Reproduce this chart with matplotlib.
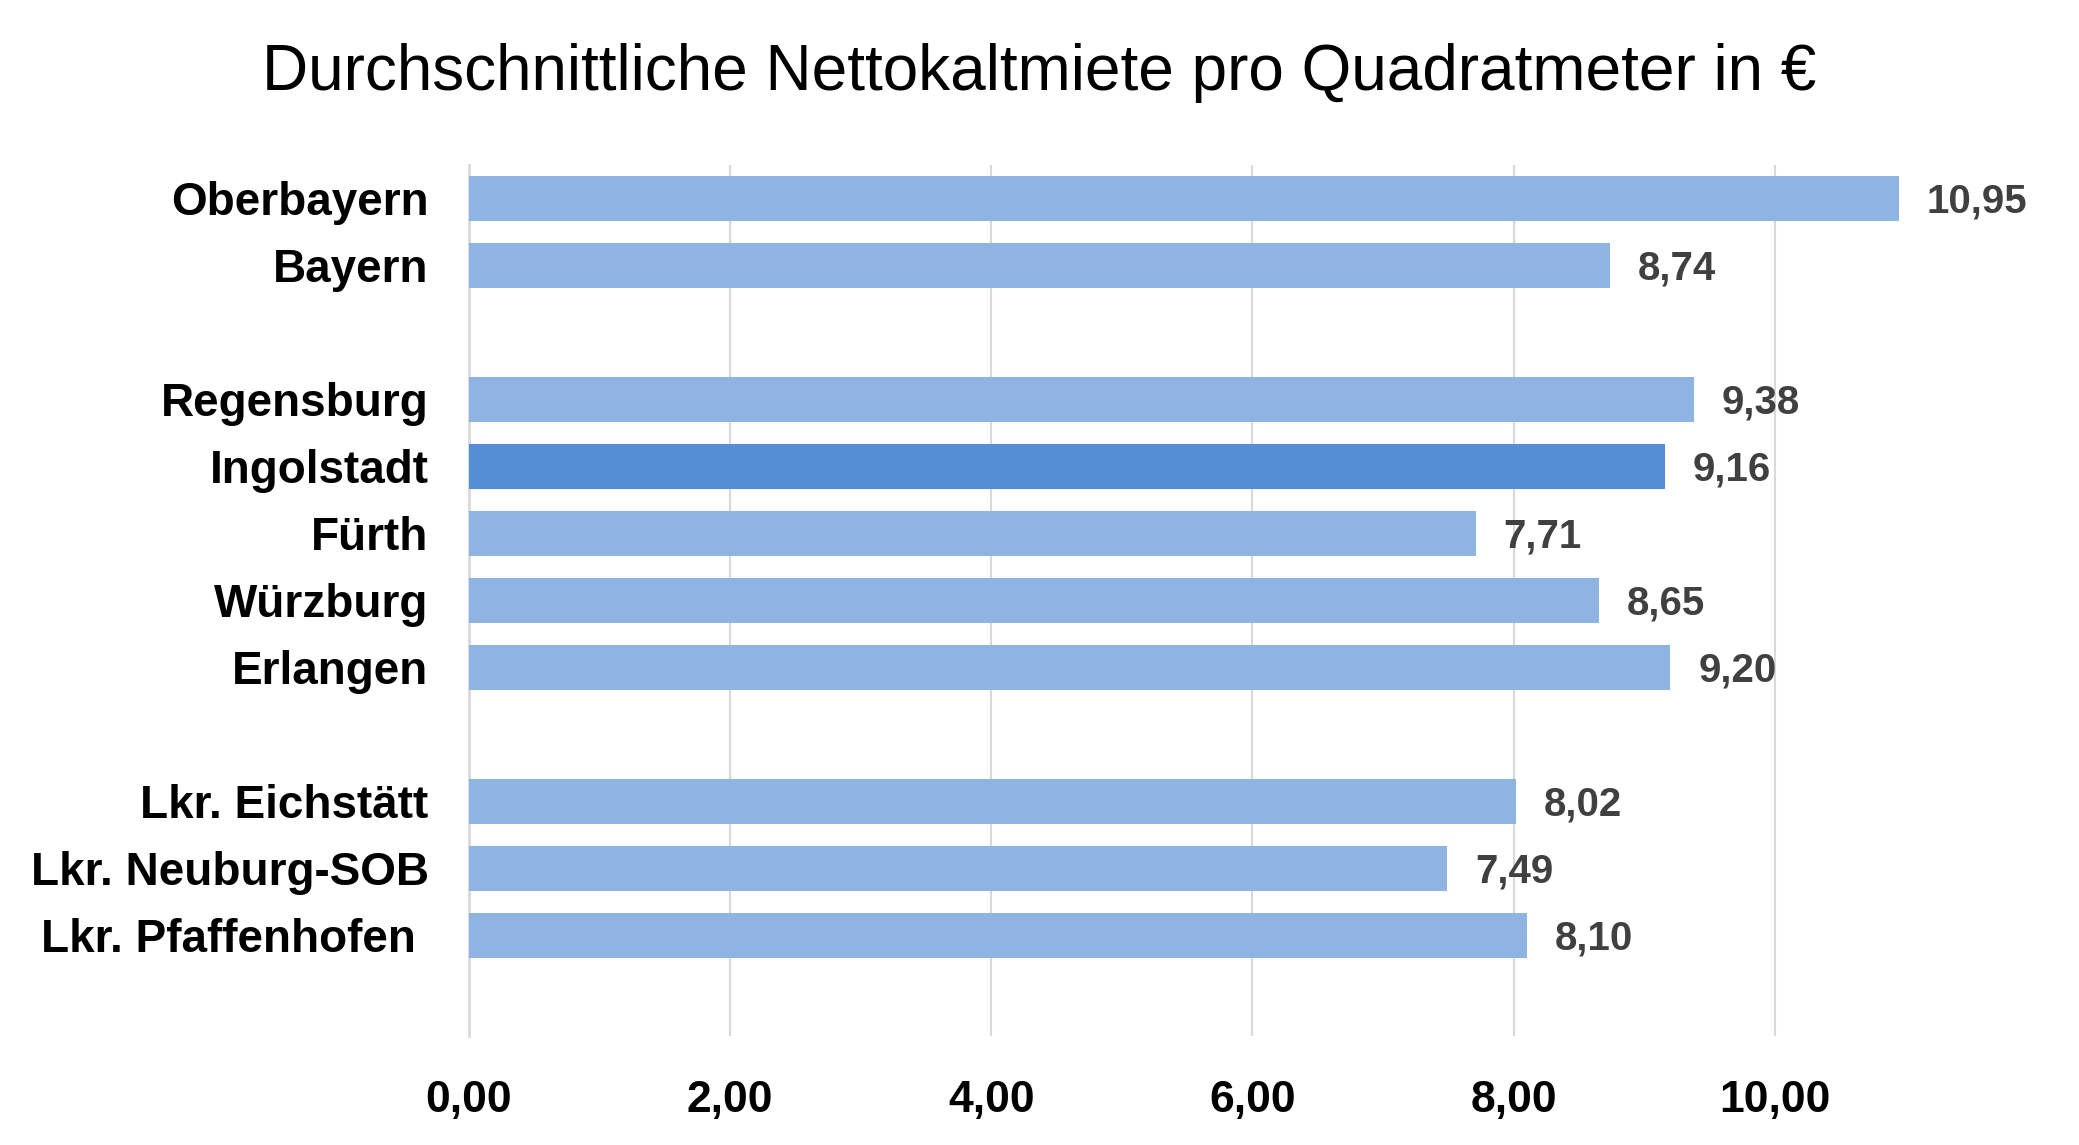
import numpy as np
import matplotlib
matplotlib.use("Agg")
import matplotlib.pyplot as plt

# categories top to bottom; None marks an empty spacer row
labels = ["Oberbayern", "Bayern", None,
          "Regensburg", "Ingolstadt", "Fürth", "Würzburg", "Erlangen", None,
          "Lkr. Eichstätt", "Lkr. Neuburg-SOB", "Lkr. Pfaffenhofen ", None]
values = [10.95, 8.74, None,
          9.38, 9.16, 7.71, 8.65, 9.20, None,
          8.02, 7.49, 8.10, None]
highlight = "Ingolstadt"
xticks = [0, 2, 4, 6, 8, 10]

light = "#8EB4E3"
dark = "#558ED5"

plt.rcParams["font.family"] = ["Liberation Sans", "DejaVu Sans"]

fig = plt.figure(figsize=(20.79, 11.45), dpi=100)
ax = fig.add_axes([0.2255, 0.0952, 0.757, 0.7607])

pos = [i for i, v in enumerate(values) if v is not None]
vals = [values[i] for i in pos]
names = [labels[i] for i in pos]
colors = [dark if n == highlight else light for n in names]

ax.barh(pos, vals, height=0.66, color=colors, zorder=3)

for p, v in zip(pos, vals):
    ax.annotate(f"{v:.2f}".replace(".", ","), xy=(v, p), xytext=(20, -2),
                textcoords="offset points", va="center", ha="left",
                fontsize=29, fontweight="bold", color="#404040")

ax.set_ylim(len(values) - 0.5, -0.5)
ax.set_xlim(0, 12.05)
ax.set_yticks(pos)
ax.set_yticklabels(names, fontsize=33, fontweight="bold")
ax.set_xticks(xticks)
ax.set_xticklabels([f"{t:.2f}".replace(".", ",") for t in xticks],
                   fontsize=32, fontweight="bold")
ax.tick_params(axis="y", length=0, pad=29)
ax.tick_params(axis="x", length=0, pad=32)

ax.grid(axis="x", color="#D9D9D9", linewidth=1.5, zorder=0)
for s in ["top", "right", "bottom"]:
    ax.spines[s].set_visible(False)
ax.spines["left"].set_color("#D9D9D9")
ax.spines["left"].set_linewidth(2)

fig.text(0.5, 0.936, "Durchschnittliche Nettokaltmiete pro Quadratmeter in €",
         ha="center", va="center", fontsize=46)

fig.savefig("out.png", dpi=100)
